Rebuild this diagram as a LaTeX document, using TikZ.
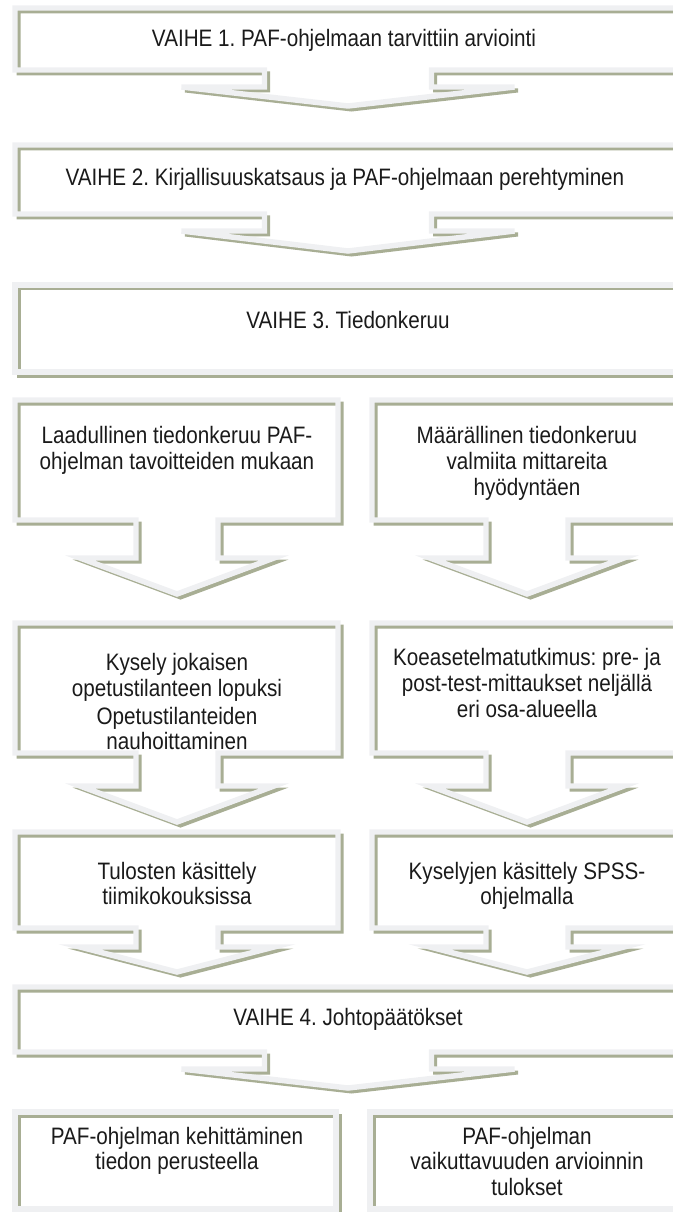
\documentclass[tikz,border=0pt]{standalone}
\usepackage{fontspec}
\setmainfont{Liberation Sans}
\frenchspacing
\definecolor{shadowc}{HTML}{A8AE94}
\definecolor{edgec}{HTML}{EFF0F2}
\definecolor{textc}{HTML}{1A1A1A}
\newcommand\calloutpath[9]{(#1,#3) -- (#2,#3) -- (#2,#4) -- ({#5+#6},#4) -- ({#5+#6},#8) -- ({#5+#7},#8) -- (#5,#9) -- ({#5-#7},#8) -- ({#5-#6},#8) -- ({#5-#6},#4) -- (#1,#4) -- cycle}
\newcommand\callout[9]{%
  \draw[shadowline] \calloutpath{#1}{#2}{#3}{#4}{#5}{#6}{#7}{#8}{#9};
  \draw[edgeline] \calloutpath{#1}{#2}{#3}{#4}{#5}{#6}{#7}{#8}{#9};}
\newcommand\plainbox[4]{%
  \draw[shadowline] (#1,#3) rectangle (#2,#4);
  \draw[edgeline] (#1,#3) rectangle (#2,#4);}
\newcommand\tl[1]{\scalebox{1}[1.15]{#1}}
\begin{document}
\begin{tikzpicture}[x=0.75pt,y=-0.75pt,
  shadowline/.style={draw=shadowc,line width=3pt,shift={(3.5,3.5)}},
  edgeline/.style={draw=edgec,line width=4.1pt},
  txt/.style={anchor=base,inner sep=0pt,text=textc,font=\fontsize{15.5}{19.5}\selectfont}]
\useasboundingbox (0,0) rectangle (673,1212);
\begin{scope}
\clip (0,0) rectangle (673,1212);
% VAIHE 1
\callout{15}{681}{8}{70}{348}{83.5}{166.5}{87}{106}
% VAIHE 2
\callout{15}{681}{145}{214}{348}{83.5}{166.5}{231}{251}
% VAIHE 3
\plainbox{15}{681}{285}{372}
% row A
\callout{15}{338}{400}{520}{177}{41}{97}{558}{594}
\callout{372}{682}{400}{520}{527}{41}{97}{558}{594}
% row B
\callout{15}{338}{623}{753}{177}{41}{97}{786}{822}
\callout{372}{682}{623}{753}{527}{41}{97}{786}{822}
% row C
\callout{15}{338}{832}{928}{177}{41}{97}{947}{972}
\callout{372}{682}{832}{928}{527}{41}{97}{947}{972}
% VAIHE 4
\callout{15}{681}{987}{1052}{348}{83.5}{166.5}{1069}{1088}
% row D
\plainbox{15}{336}{1112}{1209}
\plainbox{370}{682}{1112}{1209}
\end{scope}
% texts
\node[txt] (v1) at (344,47) {\tl{VAIHE 1. PAF-ohjelmaan tarvittiin arviointi}};
\node[txt] (v2) at (345,186) {\tl{VAIHE 2. Kirjallisuuskatsaus ja PAF-ohjelmaan perehtyminen}};
\node[txt] (v3) at (348,329) {\tl{VAIHE 3. Tiedonkeruu}};
\node[txt] (al1) at (177,443) {\tl{Laadullinen tiedonkeruu PAF-}};
\node[txt] (al2) at (177,469) {\tl{ohjelman tavoitteiden mukaan}};
\node[txt] (ar1) at (527,443) {\tl{Määrällinen tiedonkeruu}};
\node[txt] (ar2) at (527,469) {\tl{valmiita mittareita}};
\node[txt] (ar3) at (527,495) {\tl{hyödyntäen}};
\node[txt] (bl1) at (177,670) {\tl{Kysely jokaisen}};
\node[txt] (bl2) at (177,696) {\tl{opetustilanteen lopuksi}};
\node[txt] (bl3) at (177,724) {\tl{Opetustilanteiden}};
\node[txt] (bl4) at (177,749) {\tl{nauhoittaminen}};
\node[txt] (br1) at (527,665) {\tl{Koeasetelmatutkimus: pre- ja}};
\node[txt] (br2) at (527,691) {\tl{post-test-mittaukset neljällä}};
\node[txt] (br3) at (527,717) {\tl{eri osa-alueella}};
\node[txt] (cl1) at (177,879) {\tl{Tulosten käsittely}};
\node[txt] (cl2) at (177,904) {\tl{tiimikokouksissa}};
\node[txt] (cr1) at (527,879) {\tl{Kyselyjen käsittely SPSS-}};
\node[txt] (cr2) at (527,904) {\tl{ohjelmalla}};
\node[txt] (v4) at (348,1025) {\tl{VAIHE 4. Johtopäätökset}};
\node[txt] (dl1) at (177,1144) {\tl{PAF-ohjelman kehittäminen}};
\node[txt] (dl2) at (177,1169) {\tl{tiedon perusteella}};
\node[txt] (dr1) at (527,1144) {\tl{PAF-ohjelman}};
\node[txt] (dr2) at (527,1169) {\tl{vaikuttavuuden arvioinnin}};
\node[txt] (dr3) at (527,1195) {\tl{tulokset}};
\end{tikzpicture}
\end{document}
